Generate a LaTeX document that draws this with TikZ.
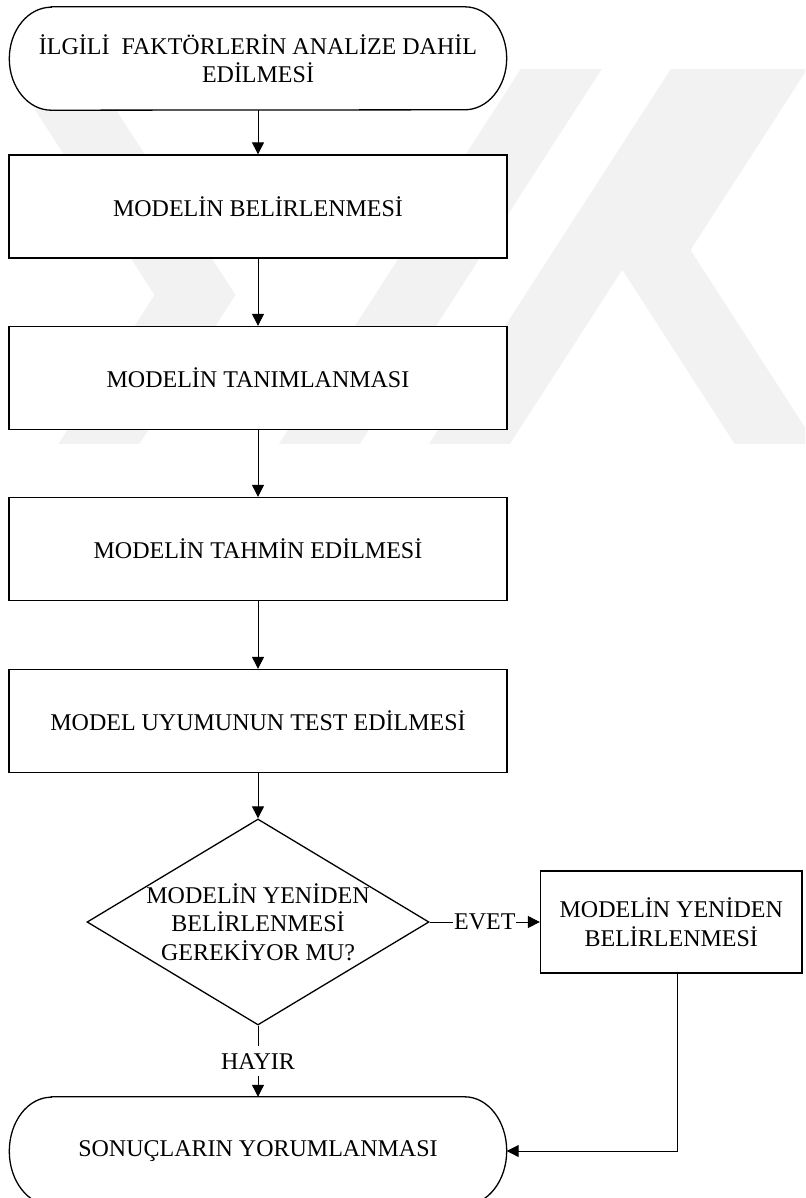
\documentclass[tikz,border=0pt]{standalone}
\usepackage{fontspec}
\setmainfont{Liberation Serif}
\usetikzlibrary{arrows.meta,shapes.geometric,backgrounds}

% outline of a terminator: straight top and bottom, elliptical ends
\newcommand\termoutline[3]{%
  \draw[shapeline,fill=white]
    ([xshift=#2]#1.north west) -- ([xshift=-#2]#1.north east)
    arc[start angle=90,end angle=-90,x radius=#2,y radius=#3]
    -- ([xshift=#2]#1.south west)
    arc[start angle=270,end angle=90,x radius=#2,y radius=#3]
    -- cycle;}

\begin{document}
\begin{tikzpicture}[x=1pt,y=1pt,
  every node/.style={font=\fontsize{24}{28.5}\selectfont},
  shapeline/.style={draw=black,line width=1.3pt},
  stepbox/.style={shapeline,fill=white,minimum width=498pt,minimum height=103pt,inner sep=0pt,align=center},
  termbox/.style={minimum width=497pt,inner sep=0pt,align=center},
  decision/.style={diamond,shapeline,fill=white,minimum width=342pt,minimum height=206pt,inner sep=0pt},
  flow/.style={draw=black,line width=1pt,-{Triangle[length=12pt,width=12pt]}},
  lbl/.style={fill=white,inner xsep=1pt,inner ysep=7pt},
  wmstripe/.style={draw=black!5,line width=68pt,line join=miter,miter limit=10}]

\useasboundingbox (0,0) rectangle (805,-1198);

% page and faint background emblem
\begin{scope}[on background layer]
  \fill[white] (0,0) rectangle (805,-1198);
  \begin{scope}
    \clip (0,-70) rectangle (805,-443);
    \draw[wmstripe] (30.5,-40) -- (195,-295) -- (82,-470);
    \draw[wmstripe] (302.6,-470) -- (580,-40);
    \draw[wmstripe] (452.6,-470) -- (730,-40);
    \draw[wmstripe] (785.5,-40) -- (650,-250) -- (792,-470);
  \end{scope}
\end{scope}

% main column
\node[termbox,minimum height=103pt] (start) at (258,-58.5)
  {İLGİLİ~ FAKTÖRLERİN ANALİZE DAHİL\\EDİLMESİ};
\node[stepbox] (s1) at (258,-206.5) {MODELİN BELİRLENMESİ};
\node[stepbox] (s2) at (258,-378) {MODELİN TANIMLANMASI};
\node[stepbox] (s3) at (258,-549) {MODELİN TAHMİN EDİLMESİ};
\node[stepbox] (s4) at (258,-721) {MODEL UYUMUNUN TEST EDİLMESİ};
\node[decision] (dec) at (258,-922) {};
\node[align=center] (dectext) at (dec.center)
  {MODELİN YENİDEN\\BELİRLENMESİ\\GEREKİYOR MU?};
\node[shapeline,fill=white,minimum width=261.5pt,minimum height=102pt,
      inner sep=0pt,align=center] (redo) at (671.25,-922)
  {MODELİN YENİDEN\\BELİRLENMESİ};
\node[termbox,minimum height=108pt] (finish) at (258,-1151)
  {SONUÇLARIN YORUMLANMASI};

\begin{scope}[on background layer]
  \termoutline{start}{42pt}{51.5pt}
  \termoutline{finish}{42pt}{54pt}
\end{scope}

% connectors
\draw[flow] (start) -- (s1);
\draw[flow] (s1) -- (s2);
\draw[flow] (s2) -- (s3);
\draw[flow] (s3) -- (s4);
\draw[flow] (s4) -- (dec);
\draw[flow] (dec.east) -- node[lbl,inner ysep=1pt] (yes) {EVET} (redo.west);
\draw[flow] (dec.south) -- node[lbl] (no) {HAYIR} (finish.north);
\draw[flow] ([xshift=6pt]redo.south) |- (finish.east);

\end{tikzpicture}
\end{document}
